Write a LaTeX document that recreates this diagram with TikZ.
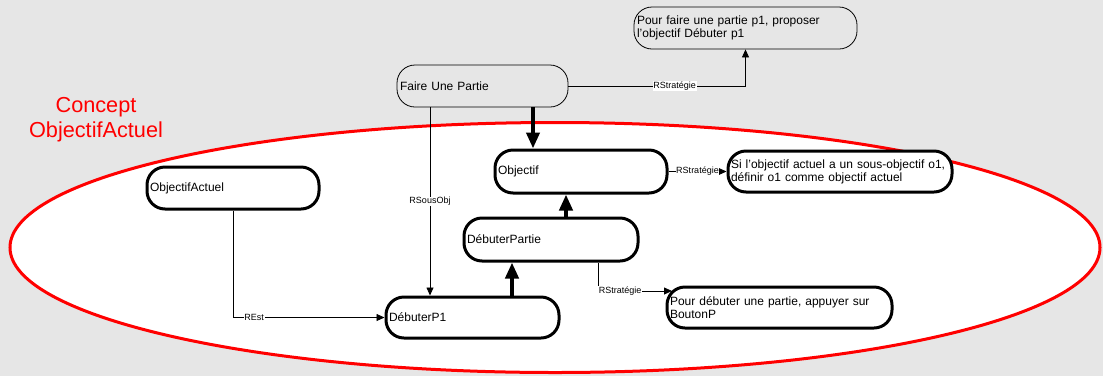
\documentclass[tikz,border=0pt]{standalone}
\usepackage{fontspec}
\setmainfont{Liberation Sans}
\usetikzlibrary{arrows.meta}
\definecolor{bg}{HTML}{E6E6E6}
\begin{document}
\begin{tikzpicture}[x=1pt,y=-1pt,
 box/.style={draw, rounded corners=18pt, inner xsep=3pt, inner ysep=2pt, align=left, font=\fontsize{12}{13}\selectfont},
 thickbox/.style={box, line width=3pt, fill=white},
 thinbox/.style={box, line width=0.8pt, fill=bg},
 lbl/.style={fill=white, inner sep=0.6pt, font=\fontsize{9}{9}\selectfont},
 thinarrow/.style={line width=0.8pt, -{Triangle[length=8pt,width=7pt]}},
 heavyarrow/.style={line width=4pt, -{Triangle[length=16pt,width=13pt]}}]
\fill[bg] (0,0) rectangle (1103,376);
\useasboundingbox (0,0) rectangle (1103,376);
\draw[red, line width=3pt, fill=white] (555,247.5) ellipse [x radius=545, y radius=125];
\node[red, font=\fontsize{21.7}{25}\selectfont, align=center] (concept) at (96,120) {Concept\\ObjectifActuel};

\node[thinbox, minimum width=223, minimum height=42, text width=217] (pf) at (745.5,28) {Pour faire une partie p1, proposer\\l'objectif Débuter p1};
\node[thinbox, minimum width=171, minimum height=42, text width=165] (fup) at (482.5,86) {Faire Une Partie};
\node[thickbox, minimum width=172, minimum height=43, text width=166] (obj) at (581,171.5) {Objectif};
\node[thickbox, minimum width=224, minimum height=41, text width=218] (si) at (840,171.5) {Si l'objectif actuel a un sous-objectif o1,\\définir o1 comme objectif actuel};
\node[thickbox, minimum width=172, minimum height=42, text width=166] (oa) at (233,188) {ObjectifActuel};
\node[thickbox, minimum width=174, minimum height=43, text width=168] (dp) at (551,239.5) {DébuterPartie};
\node[thickbox, minimum width=173, minimum height=41, text width=167] (d1) at (472.5,317.5) {DébuterP1};
\node[thickbox, minimum width=225, minimum height=41, text width=219] (pd) at (779.5,307.5) {Pour débuter une partie, appuyer sur\\BoutonP};

\draw[thinarrow] (fup.east) -- node[lbl, pos=0.6] {RStratégie} (fup.east -| pf.south) -- (pf.south);
\draw[heavyarrow] ([xshift=50.5pt]fup.south) -- ([xshift=50.5pt]fup.south |- obj.north);
\draw[thinarrow] ([xshift=-52.5pt]fup.south) -- node[lbl] {RSousObj} ([xshift=-52.5pt]fup.south |- d1.north);
\draw[thinarrow] (obj.east) -- node[lbl] {RStratégie} (si.west);
\draw[heavyarrow] ([xshift=15pt]dp.north) -- ([xshift=15pt]dp.north |- obj.south);
\draw[heavyarrow] ([xshift=39.5pt]d1.north) -- ([xshift=39.5pt]d1.north |- dp.south);
\coordinate (c1) at (672,291);
\draw[thinarrow] ([xshift=47pt]dp.south) |- node[lbl, pos=0.65] {RStratégie} (c1);
\draw[thinarrow] (oa.south) |- node[lbl, pos=0.57] {REst} (d1.west);
\end{tikzpicture}
\end{document}
